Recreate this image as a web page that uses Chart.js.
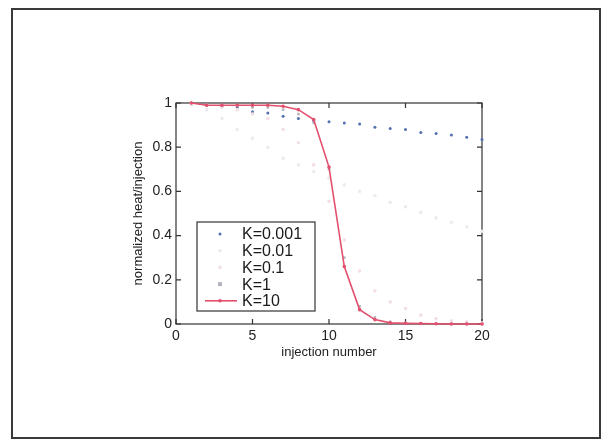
<!DOCTYPE html>
<html>
<head>
<meta charset="utf-8">
<script src="https://cdn.jsdelivr.net/npm/chart.js"></script>
<style>
  html, body { margin: 0; padding: 0; background: #fff; }
  #wrap { position: relative; width: 610px; height: 444px; }
  #frame { position: absolute; left: 11px; top: 8px; width: 590px; height: 431px;
           border: 2px solid #3a3a3a; box-sizing: border-box; pointer-events: none; }
</style>
</head>
<body>
<div id="wrap">
  <canvas id="myChart" width="610" height="444"></canvas>
  <div id="frame"></div>
</div>
<script>
let injections = [1, 2, 3, 4, 5, 6, 7, 8, 9, 10, 11, 12, 13, 14, 15, 16, 17, 18, 19, 20];

let k0001 = [1.0, 0.99, 0.985, 0.98, 0.96, 0.955, 0.94, 0.93, 0.92, 0.915,
             0.91, 0.905, 0.89, 0.885, 0.88, 0.867, 0.862, 0.855, 0.845, 0.835];
let k001 = [0.99, 0.97, 0.93, 0.88, 0.84, 0.80, 0.75, 0.72, 0.69, 0.66,
            0.63, 0.60, 0.58, 0.55, 0.53, 0.505, 0.48, 0.46, 0.44, 0.42];
let k01 = [1.0, 0.99, 0.98, 0.97, 0.95, 0.93, 0.88, 0.82, 0.72, 0.555,
           0.38, 0.24, 0.15, 0.10, 0.07, 0.04, 0.025, 0.015, 0.01, 0.005];
let k1 = [1.0, 0.99, 0.99, 0.99, 0.98, 0.98, 0.97, 0.95, 0.91, 0.70,
          0.30, 0.08, 0.03, 0.01, 0.005, 0.003, 0.002, 0.001, 0.001, 0];
let k10 = [1.0, 0.99, 0.99, 0.99, 0.99, 0.99, 0.985, 0.97, 0.925, 0.71,
           0.26, 0.065, 0.02, 0.005, 0.003, 0.002, 0.001, 0, 0, 0];

let seriesLabels = ['K=0.001', 'K=0.01', 'K=0.1', 'K=1', 'K=10'];
let seriesData = [k0001, k001, k01, k1, k10];
let seriesColors = ['#5470b0', '#ebebf0', '#f4dfe3', '#b4b4bc', '#e2506e'];

let FONT = '"Liberation Sans", Arial, sans-serif';

function points(values) {
    return injections.map((x, i) => ({ x: x, y: values[i] }));
}

// box around the plot with inward ticks, like the original figure
const boxPlugin = {
    id: 'box',
    beforeDatasetsDraw(chart) {
        const { ctx, chartArea: a, scales: { x, y } } = chart;
        ctx.save();
        ctx.strokeStyle = '#333';
        ctx.lineWidth = 1.2;
        ctx.strokeRect(a.left, a.top, a.right - a.left, a.bottom - a.top);
        ctx.beginPath();
        x.ticks.forEach(t => {
            const px = x.getPixelForValue(t.value);
            ctx.moveTo(px, a.bottom); ctx.lineTo(px, a.bottom - 5);
            ctx.moveTo(px, a.top); ctx.lineTo(px, a.top + 5);
        });
        y.ticks.forEach(t => {
            const py = y.getPixelForValue(t.value);
            ctx.moveTo(a.left, py); ctx.lineTo(a.left + 5, py);
            ctx.moveTo(a.right, py); ctx.lineTo(a.right - 5, py);
        });
        ctx.stroke();
        ctx.restore();
    }
};

// legend box inside the plot, lower left
const legendPlugin = {
    id: 'inLegend',
    afterDraw(chart) {
        const { ctx, chartArea: a } = chart;
        const left = a.left + 21, top = a.top + 119, w = 118, h = 89;
        ctx.save();
        ctx.fillStyle = '#fff';
        ctx.fillRect(left, top, w, h);
        ctx.strokeStyle = '#333';
        ctx.lineWidth = 1.2;
        ctx.strokeRect(left, top, w, h);
        ctx.font = '16px ' + FONT;
        ctx.textBaseline = 'middle';
        chart.data.datasets.forEach((ds, i) => {
            const cy = top + 12 + i * 16.7;
            const mx = left + 23;
            if (ds.showLine) {
                ctx.strokeStyle = ds.borderColor;
                ctx.lineWidth = ds.borderWidth;
                ctx.beginPath();
                ctx.moveTo(left + 8, cy);
                ctx.lineTo(left + 40, cy);
                ctx.stroke();
            }
            ctx.fillStyle = ds.pointBackgroundColor;
            if (ds.pointStyle === 'rect') {
                ctx.fillRect(mx - 2, cy - 2, 4, 4);
            } else {
                ctx.beginPath();
                ctx.arc(mx, cy, ds.pointRadius, 0, Math.PI * 2);
                ctx.fill();
            }
            ctx.fillStyle = '#1a1a1a';
            ctx.fillText(ds.label, left + 45, cy + 1);
        });
        ctx.restore();
    }
};

let ctx = document.getElementById('myChart').getContext('2d');

let chart = new Chart(ctx, {
    type: 'scatter',
    data: {
        datasets: seriesLabels.map((label, i) => ({
            label: label,
            data: points(seriesData[i]),
            showLine: i === 4,
            borderColor: seriesColors[i],
            backgroundColor: seriesColors[i],
            pointBackgroundColor: seriesColors[i],
            pointBorderColor: seriesColors[i],
            borderWidth: i === 4 ? 1.6 : 0,
            pointBorderWidth: 0,
            pointRadius: i === 0 ? 1.5 : 1.8,
            pointStyle: i === 3 ? 'rect' : 'circle',
            clip: 4,
            order: 4 - i
        }))
    },
    options: {
        responsive: false,
        animation: false,
        layout: { padding: { left: 125, right: 128, top: 103, bottom: 80 } },
        plugins: {
            legend: { display: false },
            tooltip: { enabled: false }
        },
        scales: {
            x: {
                type: 'linear',
                min: 0,
                max: 20,
                ticks: { stepSize: 5, padding: 4, color: '#222', font: { family: FONT, size: 14 } },
                grid: { display: false, drawTicks: false },
                border: { display: false },
                title: { display: true, text: 'injection number', color: '#222',
                         font: { family: FONT, size: 13 }, padding: { top: 0, bottom: 4 } },
                afterFit: s => { s.height = 40; }
            },
            y: {
                min: 0,
                max: 1,
                ticks: { stepSize: 0.2, padding: 4, color: '#222', font: { family: FONT, size: 14 },
                         callback: v => String(Number(v.toFixed(1))) },
                grid: { display: false, drawTicks: false },
                border: { display: false },
                title: { display: true, text: 'normalized heat/injection', color: '#222',
                         font: { family: FONT, size: 13 }, padding: { top: 6, bottom: 0 } },
                afterFit: s => { s.width = 51; }
            }
        }
    },
    plugins: [boxPlugin, legendPlugin]
});
</script>
</body>
</html>
